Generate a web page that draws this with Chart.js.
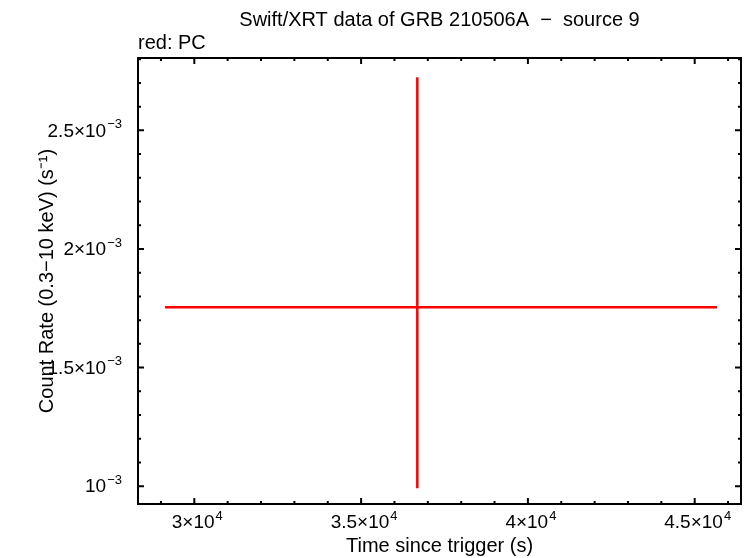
<!DOCTYPE html>
<html>
<head>
<meta charset="utf-8">
<script src="https://cdn.jsdelivr.net/npm/chart.js@4"></script>
<style>
  html, body { margin: 0; padding: 0; background: #fff; }
  #wrap { width: 746px; height: 558px; }
</style>
</head>
<body>
<div id="wrap"><canvas id="c" width="746" height="558"></canvas></div>
<script>
// ---- data ----
const timeValues = [36685];
const timeLow = [29122];
const timeHigh = [45668];
const rateValues = [1.754e-3];
const rateLow = [0.9916e-3];
const rateHigh = [2.724e-3];

const xMajorTicks = [30000, 35000, 40000, 45000];
const xTickMantissa = ['3×10', '3.5×10', '4×10', '4.5×10'];
const xTickExponent = ['4', '4', '4', '4'];
const yMajorTicks = [1.0e-3, 1.5e-3, 2.0e-3, 2.5e-3];
const yTickMantissa = ['10', '1.5×10', '2×10', '2.5×10'];
const yTickExponent = ['−3', '−3', '−3', '−3'];

const xRange = [28312, 46388];
const yRange = [0.925e-3, 2.805e-3];
const xMinorStep = 1000;
const yMinorStep = 1e-4;

const FONT = "'Liberation Sans', Arial, Helvetica, sans-serif";
const MAIN_FONT = "19px " + FONT;
const EXP_FONT = "13px " + FONT;

function drawSci(ctx, mant, exp, x, y, align) {
  ctx.font = MAIN_FONT;
  const w1 = ctx.measureText(mant).width;
  ctx.font = EXP_FONT;
  const w2 = ctx.measureText(exp).width + 1;
  const total = w1 + w2;
  let x0 = align === 'right' ? x - total : x - total / 2;
  ctx.textAlign = 'left';
  ctx.textBaseline = 'middle';
  ctx.font = MAIN_FONT;
  ctx.fillText(mant, x0, y);
  ctx.font = EXP_FONT;
  ctx.fillText(exp, x0 + w1 + 1, y - 7);
}

const framePlugin = {
  id: 'frameTicks',
  afterDatasetsDraw(chart) {
    const {ctx, scales: {x, y}} = chart;
    ctx.save();
    ctx.strokeStyle = '#ff0000';
    ctx.lineWidth = 2.5;
    ctx.lineCap = 'butt';
    for (let i = 0; i < timeValues.length; i++) {
      const px = x.getPixelForValue(timeValues[i]);
      const py = y.getPixelForValue(rateValues[i]);
      ctx.beginPath();
      ctx.moveTo(x.getPixelForValue(timeLow[i]), py);
      ctx.lineTo(x.getPixelForValue(timeHigh[i]), py);
      ctx.moveTo(px, y.getPixelForValue(rateLow[i]));
      ctx.lineTo(px, y.getPixelForValue(rateHigh[i]));
      ctx.stroke();
    }
    ctx.restore();
  },
  afterDraw(chart) {
    const {ctx, chartArea: a, scales: {x, y}} = chart;
    ctx.save();
    ctx.strokeStyle = '#000';
    ctx.lineWidth = 2;
    ctx.beginPath();
    const xStart = Math.ceil(xRange[0] / xMinorStep) * xMinorStep;
    for (let v = xStart; v <= xRange[1]; v += xMinorStep) {
      const major = v % 5000 === 0;
      const len = major ? 6 : 3;
      const px = x.getPixelForValue(v);
      ctx.moveTo(px, a.bottom); ctx.lineTo(px, a.bottom - len);
      ctx.moveTo(px, a.top); ctx.lineTo(px, a.top + len);
    }
    const nStart = Math.ceil(yRange[0] / yMinorStep - 1e-6);
    const nEnd = Math.floor(yRange[1] / yMinorStep + 1e-6);
    for (let n = nStart; n <= nEnd; n++) {
      const v = n * yMinorStep;
      const major = n % 5 === 0;
      const len = major ? 6 : 3;
      const py = y.getPixelForValue(v);
      ctx.moveTo(a.left, py); ctx.lineTo(a.left + len, py);
      ctx.moveTo(a.right, py); ctx.lineTo(a.right - len, py);
    }
    ctx.stroke();
    ctx.strokeRect(a.left, a.top, a.right - a.left, a.bottom - a.top);

    // tick labels
    ctx.fillStyle = '#000';
    xMajorTicks.forEach((v, i) => {
      drawSci(ctx, xTickMantissa[i], xTickExponent[i], x.getPixelForValue(v) + 3, a.bottom + 19, 'center');
    });
    yMajorTicks.forEach((v, i) => {
      drawSci(ctx, yTickMantissa[i], yTickExponent[i], a.left - 16, y.getPixelForValue(v) + 1, 'right');
    });
    ctx.restore();
  }
};

new Chart(document.getElementById('c'), {
  type: 'scatter',
  data: {
    datasets: [{
      data: timeValues.map((t, i) => ({x: t, y: rateValues[i]})),
      pointRadius: 0,
      borderColor: '#ff0000',
      backgroundColor: '#ff0000'
    }]
  },
  options: {
    responsive: false,
    animation: false,
    devicePixelRatio: 1,
    layout: { padding: { left: 0, right: 5, top: 0, bottom: 0 } },
    plugins: {
      legend: { display: false },
      tooltip: { enabled: false },
      title: {
        display: true,
        text: 'Swift/XRT data of GRB 210506A  −  source 9',
        fullSize: false,
        align: 'center',
        color: '#000',
        font: { family: FONT, size: 20, weight: 'normal', lineHeight: 1.2 },
        padding: { top: 8, bottom: 0 }
      },
      subtitle: {
        display: true,
        text: 'red: PC',
        fullSize: false,
        align: 'start',
        color: '#000',
        font: { family: FONT, size: 20, weight: 'normal', lineHeight: 1.1 },
        padding: { top: 0, bottom: 4 }
      }
    },
    scales: {
      x: {
        type: 'linear',
        min: xRange[0],
        max: xRange[1],
        afterBuildTicks(s) { s.ticks = xMajorTicks.map(v => ({value: v})); },
        afterFit(s) { s.height = 54; },
        grid: { display: false, drawTicks: false },
        border: { display: false },
        ticks: { display: false },
        title: {
          display: true,
          text: 'Time since trigger (s)',
          color: '#000',
          font: { family: FONT, size: 20 },
          padding: { top: 0, bottom: 0 }
        }
      },
      y: {
        type: 'linear',
        min: yRange[0],
        max: yRange[1],
        afterBuildTicks(s) { s.ticks = yMajorTicks.map(v => ({value: v})); },
        afterFit(s) { s.width = 138; },
        grid: { display: false, drawTicks: false },
        border: { display: false },
        ticks: { display: false },
        title: {
          display: true,
          text: 'Count Rate (0.3−10 keV) (s⁻¹)',
          color: '#000',
          font: { family: FONT, size: 20 },
          padding: { top: 35, bottom: 0 }
        }
      }
    }
  },
  plugins: [framePlugin]
});
</script>
</body>
</html>
